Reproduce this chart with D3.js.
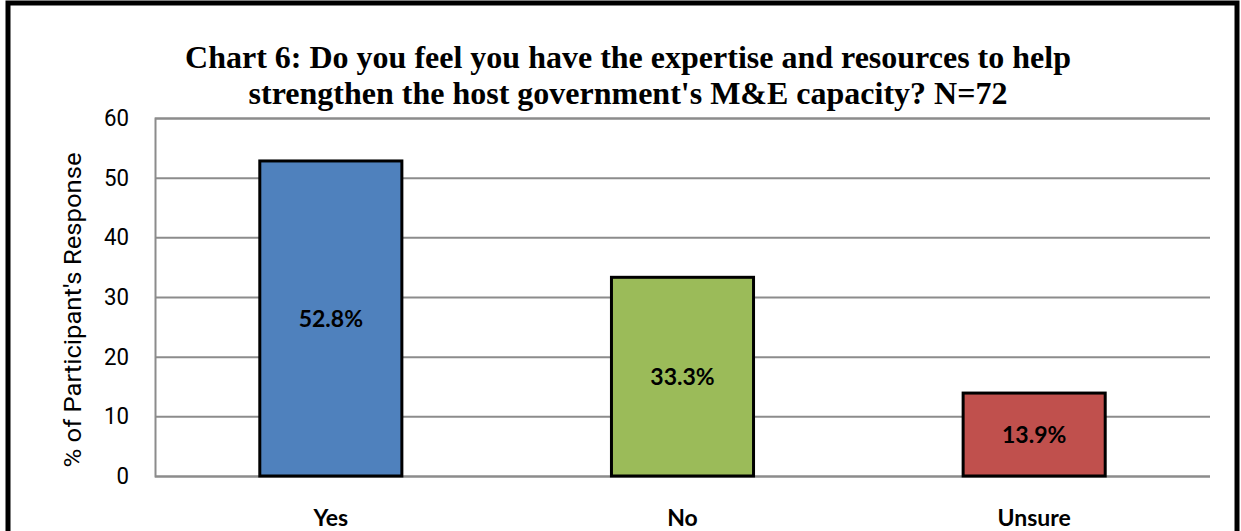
<!DOCTYPE html>
<html>
<head>
<meta charset="utf-8">
<script src="https://cdn.jsdelivr.net/npm/d3@7"></script>
<style>
  html, body { margin: 0; padding: 0; background: #fff; }
  svg { display: block; }
</style>
</head>
<body>
<svg id="chart" width="1241" height="531"></svg>
<script>
// chart data
var categories = ["Yes", "No", "Unsure"];
var values = [52.8, 33.3, 13.9];
var barColors = ["#4F81BD", "#9BBB59", "#C0504D"];
var yTicks = [0, 10, 20, 30, 40, 50, 60];
var titleLines = [
  "Chart 6: Do you feel you have the expertise and resources to help",
  "strengthen the host government's M&E capacity? N=72"
];
var yLabel = "% of Participant's Response";

var svg = d3.select("#chart");

// outer frame, bottom edge runs off the picture
svg.append("rect")
  .attr("x", 8).attr("y", 3)
  .attr("width", 1229).attr("height", 600)
  .attr("fill", "none")
  .attr("stroke", "#000")
  .attr("stroke-width", 5);

var plot = { left: 155, right: 1210, top: 118, bottom: 476 };

var x = d3.scaleBand()
  .domain(categories)
  .range([plot.left, plot.right])
  .paddingInner(0.596)
  .paddingOuter(0.298);

var y = d3.scaleLinear()
  .domain([0, 60])
  .range([plot.bottom, plot.top]);

// gridlines + tick labels
var yAxis = d3.axisLeft(y)
  .tickValues(yTicks)
  .tickSize(-(plot.right - plot.left))
  .tickPadding(26);

var gy = svg.append("g")
  .attr("transform", "translate(" + plot.left + ",0)")
  .call(yAxis);
gy.select(".domain").attr("stroke", "#8c8c8c").attr("stroke-width", 2);
gy.selectAll(".tick line").attr("stroke", "#8c8c8c").attr("stroke-width", 2);
gy.selectAll(".tick text")
  .attr("fill", "#000")
  .attr("font-family", "Roboto, sans-serif")
  .attr("font-size", 23)
  .attr("textLength", function () { return this.textContent.length * 12.5; })
  .attr("lengthAdjust", "spacingAndGlyphs");

// bars
svg.append("g").selectAll("rect")
  .data(values)
  .join("rect")
  .attr("x", function (d, i) { return x(categories[i]); })
  .attr("y", function (d) { return y(d); })
  .attr("width", x.bandwidth())
  .attr("height", function (d) { return y(0) - y(d); })
  .attr("fill", function (d, i) { return barColors[i]; })
  .attr("stroke", "#000")
  .attr("stroke-width", 3);

// value labels in the middle of each bar
svg.append("g").selectAll("text")
  .data(values)
  .join("text")
  .attr("x", function (d, i) { return x(categories[i]) + x.bandwidth() / 2; })
  .attr("y", function (d) { return (y(d) + y(0)) / 2; })
  .attr("dy", "0.36em")
  .attr("text-anchor", "middle")
  .style("font-family", "Lato, sans-serif")
  .style("font-weight", "bold")
  .style("font-size", "23px")
  .text(function (d) { return d.toFixed(1) + "%"; });

// category labels
svg.append("g").selectAll("text")
  .data(categories)
  .join("text")
  .attr("x", function (d) { return x(d) + x.bandwidth() / 2; })
  .attr("y", 526)
  .attr("text-anchor", "middle")
  .style("font-family", "Lato, sans-serif")
  .style("font-weight", "bold")
  .style("font-size", "23px")
  .text(function (d) { return d; });

// y axis title
svg.append("text")
  .attr("transform", "translate(81,310) rotate(-90)")
  .attr("text-anchor", "middle")
  .style("font-family", "Roboto, sans-serif")
  .style("font-size", "23px")
  .attr("textLength", 315)
  .attr("lengthAdjust", "spacingAndGlyphs")
  .text(yLabel);

// title
svg.append("g").selectAll("text")
  .data(titleLines)
  .join("text")
  .attr("x", 628)
  .attr("y", function (d, i) { return 68 + i * 36; })
  .attr("text-anchor", "middle")
  .style("font-family", "'Liberation Serif', 'Times New Roman', serif")
  .style("font-weight", "bold")
  .style("font-size", "32px")
  .text(function (d) { return d; });
</script>
</body>
</html>
